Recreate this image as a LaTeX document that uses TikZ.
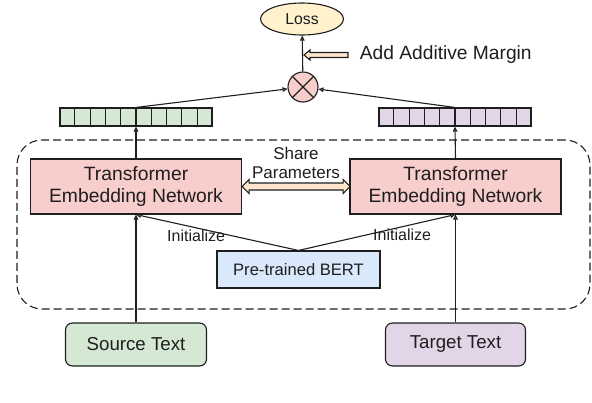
\documentclass[tikz,border=0pt]{standalone}
\usepackage{fontspec}
\setmainfont{Liberation Sans}
\usetikzlibrary{arrows.meta,shapes.geometric,calc}

\definecolor{pinkfill}{HTML}{F8CECC}
\definecolor{bluefill}{HTML}{DAE8FC}
\definecolor{greenfill}{HTML}{D5E8D4}
\definecolor{purplefill}{HTML}{E1D5E7}
\definecolor{yellowfill}{HTML}{FFF2CC}
\definecolor{orangefill}{HTML}{FFE6CC}
\definecolor{linegray}{HTML}{1E1E1E}

\tikzset{
  box/.style={draw=linegray, text=linegray, inner sep=0pt, align=center},
  tenbox/.style={box, fill=pinkfill, minimum width=211pt, minimum height=55pt,
    font=\fontsize{19.3}{22}\selectfont},
  bertbox/.style={box, fill=bluefill, minimum width=163pt, minimum height=37pt,
    font=\fontsize{16.6}{19}\selectfont},
  textbox/.style={box, rounded corners=7pt, minimum width=141pt, minimum height=43pt,
    font=\fontsize{18.7}{21}\selectfont},
  vecbox/.style={box, minimum width=152pt, minimum height=18pt},
  lossnode/.style={box, ellipse, fill=yellowfill, minimum width=83pt, minimum height=32pt,
    font=\fontsize{15.8}{18}\selectfont},
  framebox/.style={draw=linegray, dash pattern=on 8pt off 4pt, rounded corners=25pt},
  initlabel/.style={text=linegray, inner sep=2pt, font=\fontsize{16}{18}\selectfont},
  blockarrow/.style={draw=linegray, fill=orangefill, line join=miter}
}

\begin{document}
\begin{tikzpicture}[x=1pt, y=-1pt, line width=1.1pt, draw=linegray,
  >={Triangle[open,length=5pt,width=4.5pt]}]
\useasboundingbox (0,0) rectangle (592,402);

% dashed container round the two encoders
\node (frame) [framebox, minimum width=573pt, minimum height=169pt] at (303.5,224.5) {};

% loss on top
\node (loss) [lossnode] at (302,19) {Loss};
\node (otimes) [circle, draw=linegray, fill=pinkfill, minimum size=30pt, inner sep=0pt] at (303,87) {};
\draw (otimes.north west) -- (otimes.south east);
\draw (otimes.north east) -- (otimes.south west);

% output vectors
\node (vecl) [vecbox, fill=greenfill] at (136,117) {};
\node (vecr) [vecbox, fill=purplefill] at (455,117) {};
\foreach \v in {vecl,vecr}
  \foreach \i in {1,...,9}
    \draw ($(\v.south west)!\i/10!(\v.south east)$) -- ($(\v.north west)!\i/10!(\v.north east)$);

% encoders
\node (tenl) [tenbox] at (136,186.5) {Transformer\\Embedding Network};
\node (tenr) [tenbox] at (455.5,186.5) {Transformer\\Embedding Network};
\node (bert) [bertbox] at (298.5,269.5) {Pre-trained BERT};

% inputs
\node (src) [textbox, fill=greenfill] at (136,344.5) {Source Text};
\node (tgt) [textbox, fill=purplefill, minimum width=140pt] at (455.5,344.5) {Target Text};

% connectors
\draw[->] (src.north) -- (tenl.south);
\draw[->] (tgt.north) -- (tenr.south);
\draw[->] (tenl.north) -- (vecl.south);
\draw[->] (tenr.north) -- (vecr.south);
\draw[->] (vecl.north) -- (otimes);
\draw[->] (vecr.north) -- (otimes);
\draw[->] (otimes) -- (loss);
\draw[->] (bert.north) -- node[initlabel, pos=0.63, below] {Initialize} (tenl.south);
\draw[->] (bert.north) -- node[initlabel, pos=0.66, below] {Initialize} (tenr.south);

% share parameters
\draw[blockarrow] (tenl.east) -- ++(7,-7) -- ++(0,3.5) -- ++(94,0) -- ++(0,-3.5) -- ++(7,7)
  -- ++(-7,7) -- ++(0,-3.5) -- ++(-94,0) -- ++(0,3.5) -- cycle;
\node (share) [align=center, text=linegray, font=\fontsize{17}{19.5}\selectfont] at (296,163) {Share\\Parameters};

% additive margin
\coordinate (mtip) at (304,55);
\draw[blockarrow] (mtip) -- ++(6,-5) -- ++(0,2.5) -- ++(38,0) -- ++(0,5) -- ++(-38,0) -- ++(0,2.5) -- cycle;
\node (margin) [anchor=west, text=linegray, font=\fontsize{19.2}{22}\selectfont] at (356,55) {Add Additive Margin};
\end{tikzpicture}
\end{document}
